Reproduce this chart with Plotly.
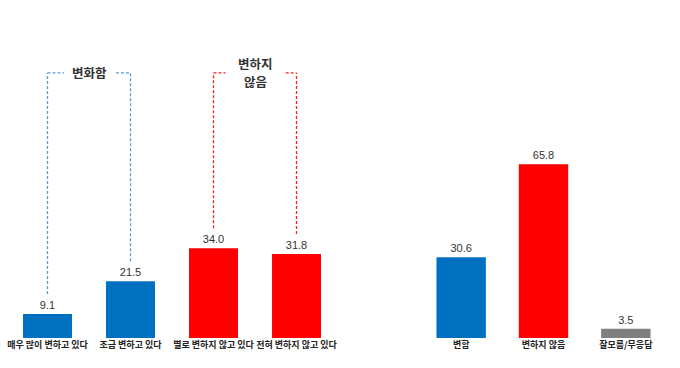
import plotly.graph_objects as go

left_cats = ["매우 많이 변하고 있다", "조금 변하고 있다", "별로 변하지 않고 있다", "전혀 변하지 않고 있다"]
left_vals = [9.1, 21.5, 34.0, 31.8]
left_colors = ["#0070C0", "#0070C0", "#FF0000", "#FF0000"]

right_cats = ["변함", "변하지 않음", "잘모름/무응답"]
right_vals = [30.6, 65.8, 3.5]
right_colors = ["#0070C0", "#FF0000", "#7F7F7F"]

group_labels = [["변화함"], ["변하지", "않음"]]
group_members = [[0, 1], [2, 3]]
group_colors = ["#5B9BD5", "#FF2020"]

YMAX = 128
BRACKET_TOP = 100.4
BRACKET_GAP = 7.6

fig = go.Figure()
fig.add_trace(go.Bar(
    x=left_cats, y=left_vals, marker=dict(color=left_colors, line=dict(width=0)),
    text=[f"{v:.1f}" for v in left_vals], textposition="outside", cliponaxis=False,
    textfont=dict(size=11, color="#333333", family="Arial"),
    xaxis="x", yaxis="y", width=0.59, showlegend=False))
fig.add_trace(go.Bar(
    x=right_cats, y=right_vals, marker=dict(color=right_colors, line=dict(width=0)),
    text=[f"{v:.1f}" for v in right_vals], textposition="outside", cliponaxis=False,
    textfont=dict(size=11, color="#333333", family="Arial"),
    xaxis="x2", yaxis="y2", width=0.6, showlegend=False))

shapes = []
annotations = []
gaps = [(0.2, 0.825), (0.145, 0.87)]
for lines, mem, col, (g1, g2) in zip(group_labels, group_members, group_colors, gaps):
    a, b = mem
    ln = dict(color=col, width=1.3, dash="3px,2px")
    shapes.append(dict(type="line", xref="x", yref="y", x0=a, x1=a,
                       y0=left_vals[a] + BRACKET_GAP, y1=BRACKET_TOP, line=ln))
    shapes.append(dict(type="line", xref="x", yref="y", x0=b, x1=b,
                       y0=left_vals[b] + BRACKET_GAP, y1=BRACKET_TOP, line=ln))
    shapes.append(dict(type="line", xref="x", yref="y", x0=a, x1=a + g1,
                       y0=BRACKET_TOP, y1=BRACKET_TOP, line=ln))
    shapes.append(dict(type="line", xref="x", yref="y", x0=a + g2, x1=b,
                       y0=BRACKET_TOP, y1=BRACKET_TOP, line=ln))
    n = len(lines)
    for i, t in enumerate(lines):
        shift = (n - 1) * 9 - i * 18
        annotations.append(dict(xref="x", yref="y", x=(a + b) / 2, y=BRACKET_TOP,
                                yshift=shift, text="<b>" + t + "</b>",
                                showarrow=False, borderpad=0,
                                font=dict(size=12.5, color="#333333", family="Noto Sans CJK KR")))

axis_common = dict(showgrid=False, zeroline=False, showline=False, ticks="",
                   tickangle=0, automargin=False,
                   tickfont=dict(size=9, color="#222222", family="Noto Sans CJK KR"),
                   fixedrange=True)
fig.update_layout(
    width=680, height=368,
    margin=dict(l=0, r=0, t=0, b=30),
    paper_bgcolor="white", plot_bgcolor="white",
    xaxis=dict(domain=[6/680, 338/680], anchor="y",
               tickvals=left_cats, ticktext=["<b>" + c + "</b>" for c in left_cats],
               **axis_common),
    xaxis2=dict(domain=[420/680, 667/680], anchor="y2",
                tickvals=right_cats, ticktext=["<b>" + c + "</b>" for c in right_cats],
                **axis_common),
    yaxis=dict(range=[0, YMAX], visible=False, anchor="x"),
    yaxis2=dict(range=[0, YMAX], visible=False, anchor="x2"),
    shapes=shapes, annotations=annotations,
)
fig.write_html("out.html")
